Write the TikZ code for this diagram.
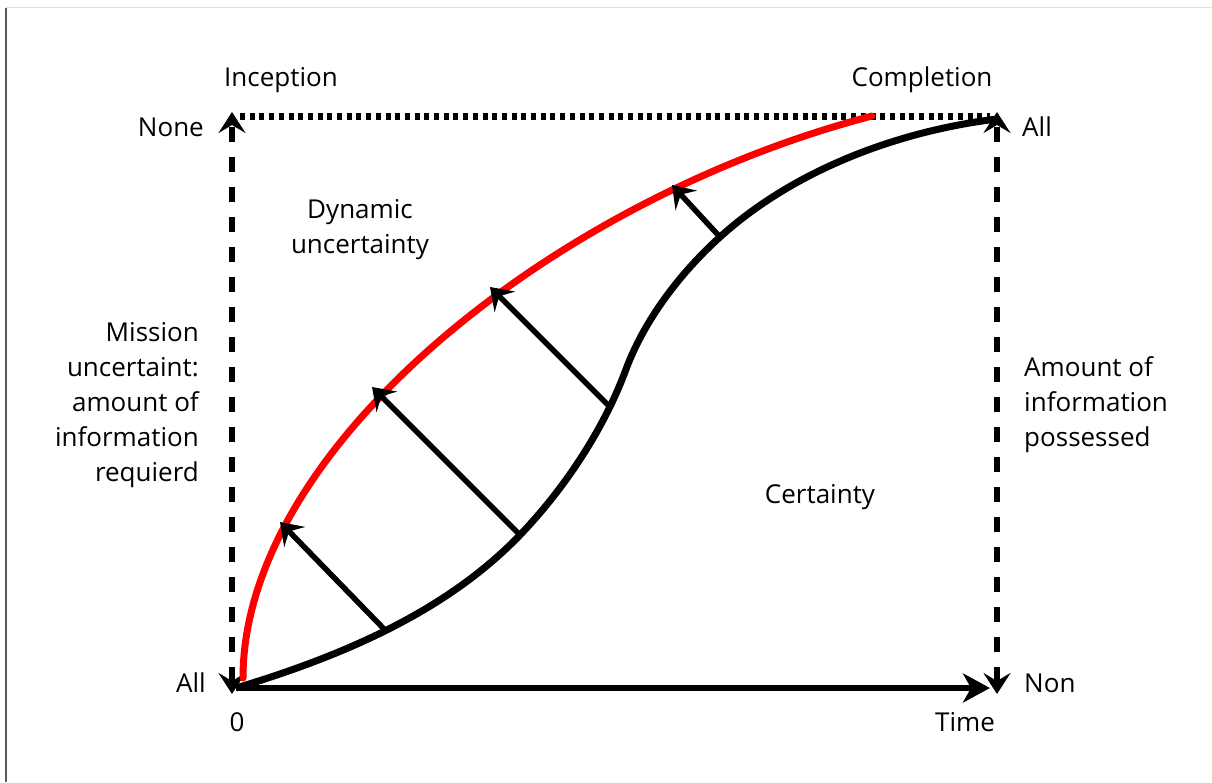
\documentclass[tikz,border=0pt]{standalone}
\usepackage{fontspec}
\setmainfont{Open Sans}
\usetikzlibrary{arrows.meta}
\begin{document}
\begin{tikzpicture}[x=1pt,y=-1pt,
  lbl/.style={font=\fontsize{26}{35}\selectfont, inner sep=0pt, align=center},
  framedash/.style={line width=6.5pt, dash pattern=on 15pt off 15pt},
  topdots/.style={line width=7pt, dash pattern=on 5pt off 4.7pt},
  curve/.style={line width=7pt, line cap=round},
  push/.style={line width=5.5pt, -{Stealth[length=21pt,width=29pt,inset=8pt]}}]
\useasboundingbox (0,0) rectangle (1212,782);
% screenshot frame
\draw[line width=2pt, draw=black!65] (6,8) -- (6,782);
\draw[line width=1pt, draw=black!12] (6,7) -- (1212,7);
% corners
\coordinate (TL) at (232,112);
\coordinate (BL) at (232,694);
\coordinate (TR) at (997,112);
\coordinate (BR) at (997,694);
\coordinate (O) at (236,688);
\coordinate (TE) at (990,688);
% frame lines
\draw[framedash, {Stealth[length=21pt,width=27pt,inset=8pt]}-{Stealth[length=21pt,width=27pt,inset=8pt]}] (BL) -- (TL);
\draw[framedash, {Stealth[length=21pt,width=27pt,inset=8pt]}-{Stealth[length=21pt,width=27pt,inset=8pt]}] (BR) -- (TR);
\draw[topdots] (240,116) -- (990,116);
% time axis
\draw[line width=6.5pt, -{Stealth[length=27pt,width=29pt,inset=8pt]}] (O) -- (TE);
% curves
\draw[curve, red] (243,678) .. controls (243,450) and (550,200) .. (872,116);
\draw[curve, black, line cap=butt] (O) .. controls (339,657) and (445,613) .. (520,535)
  .. controls (565,488) and (603,430) .. (625,372)
  .. controls (643,322) and (679,274) .. (720,237)
  .. controls (794,170) and (898,131) .. (997,119);
% push arrows
\coordinate (b1) at (385,630); \coordinate (r1) at (280,522);
\coordinate (b2) at (520,535); \coordinate (r2) at (372,387);
\coordinate (b3) at (610,407); \coordinate (r3) at (490,287);
\coordinate (b4) at (720,237); \coordinate (r4) at (672,185);
\draw[push] (b1) -- (r1);
\draw[push] (b2) -- (r2);
\draw[push] (b3) -- (r3);
\draw[push] (b4) -- (r4);
% labels
\node[lbl] (inc) at (281,80) {Inception};
\node[lbl] (comp) at (922,80) {Completion};
\node[lbl, anchor=east] (none) at (204,127) {None};
\node[lbl, anchor=west] (allr) at (1022,127) {All};
\node[lbl, anchor=east] (alll) at (206,683) {All};
\node[lbl, anchor=west] (non) at (1024,683) {Non};
\node[lbl] (zero) at (237,722) {0};
\node[lbl] (time) at (965,722) {Time};
\node[lbl] (dyn) at (360,230) {Dynamic\\uncertainty};
\node[lbl, align=right, anchor=east] (mis) at (199,405) {Mission\\uncertaint:\\amount of\\information\\requierd};
\node[lbl, align=left, anchor=west] (amt) at (1024,405) {Amount of\\information\\possessed};
\node[lbl] (cert) at (820,497) {Certainty};
\end{tikzpicture}
\end{document}
